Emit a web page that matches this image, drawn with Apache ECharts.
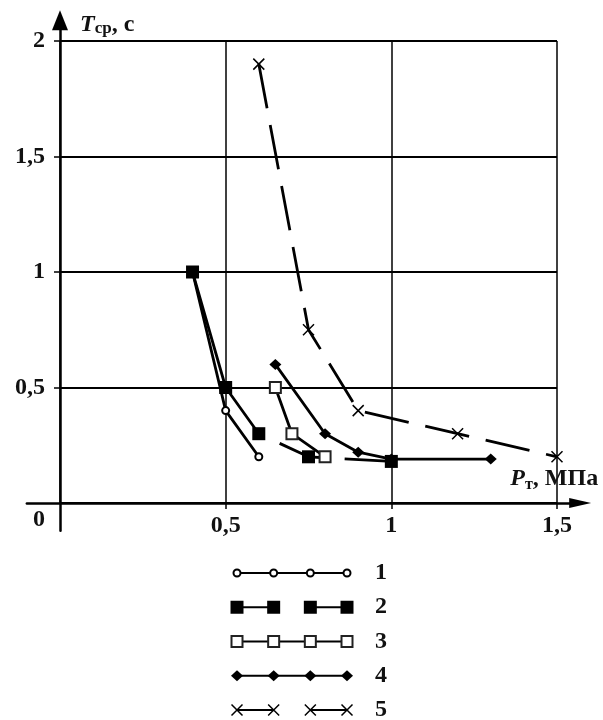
<!DOCTYPE html>
<html>
<head>
<meta charset="utf-8">
<script src="https://cdn.jsdelivr.net/npm/echarts@6/dist/echarts.min.js"></script>
<style>
  html, body { margin: 0; padding: 0; background: #fff; }
  #chart { width: 603px; height: 720px; }
</style>
</head>
<body>
<div id="chart"></div>
<script>
// кривые 1..5: давление Pт (МПа) и среднее время Tср (с)
const p1 = [0.4, 0.5, 0.6];
const t1 = [1.0, 0.4, 0.2];
const p2 = [0.4, 0.5, 0.6, 0.75, 1.0];
const t2 = [1.0, 0.5, 0.3, 0.2, 0.18];
const p3 = [0.65, 0.7, 0.8];
const t3 = [0.5, 0.3, 0.2];
const p4 = [0.65, 0.8, 0.9, 1.0, 1.3];
const t4 = [0.6, 0.3, 0.22, 0.19, 0.19];
const p5 = [0.6, 0.75, 0.9, 1.2, 1.5];
const t5 = [1.9, 0.75, 0.4, 0.3, 0.2];

// подписи осей
const xTicks = [0.5, 1, 1.5];
const yTicks = [0.5, 1, 1.5, 2];

// легенда: номера кривых, позиции маркеров, разорванные линии
const legendRows = [1, 2, 3, 4, 5];
const legendX = [0, 1, 2, 3];
const legendBroken = [2, 5];

const serif = '"Liberation Serif", "Times New Roman", serif';
const fmt = v => String(v).replace('.', ',');
const zip = (xs, ys) => xs.map((x, i) => [x, ys[i]]);

const curves = [zip(p1, t1), zip(p2, t2), zip(p3, t3), zip(p4, t4), zip(p5, t5)];

// оформление каждой кривой
const looks = [
  { symbol: 'emptyCircle', size: 7, dash: 'solid', item: { color: '#000', borderColor: '#000', borderWidth: 1.5 } },
  { symbol: 'rect', size: 13, dash: [178, 22, 53, 15, 1000], item: { color: '#000' } },
  { symbol: 'emptyRect', size: 11, dash: 'solid', item: { color: '#222', borderColor: '#222', borderWidth: 1.5 } },
  { symbol: 'diamond', size: [12, 11], dash: 'solid', item: { color: '#000' } },
  { symbol: 'path://M0,0L10,10M10,0L0,10', size: 11, dash: [45, 17], item: { color: '#000', borderColor: '#000', borderWidth: 1.5 } }
];

const fs = 24;
const labelFont = { color: '#111', fontFamily: serif, fontWeight: 'bold', fontSize: fs };

const series = [];
curves.forEach((data, i) => {
  const lk = looks[i];
  series.push({
    name: String(i + 1),
    type: 'line',
    xAxisIndex: 1,
    yAxisIndex: 1,
    data: data,
    clip: false,
    symbol: lk.symbol,
    symbolSize: lk.size,
    itemStyle: lk.item,
    lineStyle: { color: '#000', width: 2.8, type: lk.dash },
    silent: true
  });
});
legendRows.forEach((row, i) => {
  const lk = looks[i];
  let data = legendX.map(x => [x, row]);
  if (legendBroken.includes(row)) {
    data = [data[0], data[1], [1.5, '-'], data[2], data[3]];
  }
  series.push({
    type: 'line',
    xAxisIndex: 2,
    yAxisIndex: 2,
    data: data,
    clip: false,
    symbol: lk.symbol,
    symbolSize: lk.size,
    itemStyle: lk.item,
    lineStyle: { color: '#000', width: 2 },
    silent: true
  });
});

const chart = echarts.init(document.getElementById('chart'));
chart.setOption({
  animation: false,
  backgroundColor: '#fff',
  grid: [
    { left: 26.87, top: 20.2, width: 553.3, height: 510.5, outerBoundsMode: 'none' }, // оси со стрелками
    { left: 60, top: 41, width: 497, height: 462, outerBoundsMode: 'none' },          // сетка и кривые
    { left: 237, top: 573, width: 110, height: 137, outerBoundsMode: 'none' }         // легенда
  ],
  xAxis: [
    {
      gridIndex: 0,
      type: 'value',
      min: -0.1,
      max: 1.57,
      offset: -27.7, // ось проходит через ноль
      name: '{it|P}{sub|т}{n|, МПа}',
      nameLocation: 'end',
      nameGap: 18,
      nameTextStyle: {
        align: 'right',
        verticalAlign: 'bottom',
        padding: [0, 0, 12, 0],
        rich: {
          it: { fontFamily: serif, fontWeight: 'bold', fontStyle: 'italic', fontSize: fs, color: '#111' },
          sub: { fontFamily: serif, fontWeight: 'bold', fontSize: 16, color: '#111', verticalAlign: 'bottom', padding: [0, 0, -2, 0] },
          n: { fontFamily: serif, fontWeight: 'bold', fontSize: fs, color: '#111' }
        }
      },
      axisLine: {
        onZero: false,
        symbol: ['none', 'triangle'],
        symbolSize: [10, 22],
        lineStyle: { color: '#000', width: 2.5 }
      },
      axisTick: { customValues: xTicks, length: 6, lineStyle: { color: '#000', width: 1.5 } },
      axisLabel: Object.assign({ customValues: xTicks, formatter: fmt, margin: 11 }, labelFont),
      splitLine: { show: false }
    },
    {
      gridIndex: 1,
      type: 'value',
      min: 0,
      max: 1.5,
      interval: 0.5,
      axisLine: { show: false },
      axisTick: { show: false },
      axisLabel: { show: false },
      splitLine: { show: true, lineStyle: { color: '#000', width: 1.5 } }
    },
    { gridIndex: 2, type: 'value', min: 0, max: 3, show: false }
  ],
  yAxis: [
    {
      gridIndex: 0,
      type: 'value',
      min: -0.12,
      max: 2.09,
      offset: -33.13, // ось проходит через ноль
      name: '{it|T}{sub|ср}{n|, с}',
      nameLocation: 'end',
      nameGap: -5,
      nameTextStyle: {
        align: 'left',
        verticalAlign: 'middle',
        padding: [0, 0, 0, 20],
        rich: {
          it: { fontFamily: serif, fontWeight: 'bold', fontStyle: 'italic', fontSize: fs, color: '#111' },
          sub: { fontFamily: serif, fontWeight: 'bold', fontSize: 17, color: '#111', verticalAlign: 'bottom' },
          n: { fontFamily: serif, fontWeight: 'bold', fontSize: fs, color: '#111' }
        }
      },
      axisLine: {
        onZero: false,
        symbol: ['none', 'triangle'],
        symbolSize: [16, 20],
        lineStyle: { color: '#000', width: 2.5 }
      },
      axisTick: { customValues: yTicks, length: 6, lineStyle: { color: '#000', width: 1.5 } },
      axisLabel: Object.assign({
        customValues: [0].concat(yTicks),
        margin: 15,
        formatter: v => (v === 0 ? '{o|0}' : fmt(v)),
        rich: { o: Object.assign({ padding: [34, 0, 0, 0] }, labelFont) }
      }, labelFont),
      splitLine: { show: false }
    },
    {
      gridIndex: 1,
      type: 'value',
      min: 0,
      max: 2,
      interval: 0.5,
      axisLine: { show: false },
      axisTick: { show: false },
      axisLabel: { show: false },
      splitLine: { show: true, lineStyle: { color: '#000', width: 1.8 } }
    },
    {
      gridIndex: 2,
      type: 'value',
      min: 1,
      max: 5,
      interval: 1,
      inverse: true,
      position: 'right',
      axisLine: { show: false },
      axisTick: { show: false },
      splitLine: { show: false },
      axisLabel: Object.assign({ margin: 28, align: 'left' }, labelFont)
    }
  ],
  series: series
});
</script>
</body>
</html>
